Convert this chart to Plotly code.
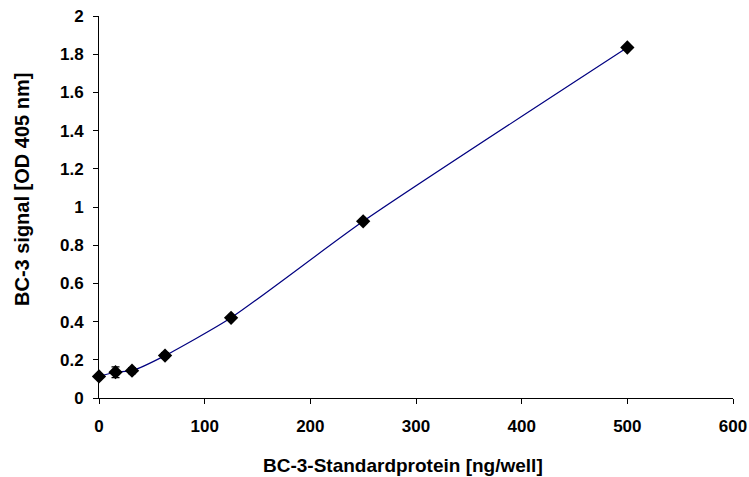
import plotly.graph_objects as go

x_vals = [0, 15.625, 31.25, 62.5, 125, 250, 500]
y_vals = [0.113, 0.135, 0.143, 0.222, 0.42, 0.925, 1.835]
y_err = [0.01, 0.028, 0.015, 0.015, 0.01, 0.01, 0.01]
x_ticks = [0, 100, 200, 300, 400, 500, 600]
y_ticks = [0, 0.2, 0.4, 0.6, 0.8, 1, 1.2, 1.4, 1.6, 1.8, 2]

W, H = 749, 477
L, R, T, B = 99, 16, 16, 79

fig = go.Figure()
fig.add_trace(go.Scatter(
    x=x_vals, y=y_vals, mode="lines+markers",
    line=dict(color="#000080", width=1.2, shape="spline", smoothing=0.6),
    marker=dict(symbol="diamond", size=11, color="black"),
    error_y=dict(type="data", array=y_err, visible=True, color="black", thickness=1.3, width=4),
    showlegend=False, cliponaxis=False,
))

fam = "Arial, Liberation Sans, sans-serif"
fig.update_layout(
    width=W, height=H,
    margin=dict(l=L, r=R, t=T, b=B, autoexpand=False),
    paper_bgcolor="white", plot_bgcolor="white",
    font=dict(family=fam, size=17, color="black"),
    xaxis=dict(
        range=[0, 600], tickvals=x_ticks, ticktext=[f"<b>{v}</b>" for v in x_ticks],
        showgrid=False, zeroline=False, showline=True, linecolor="black", linewidth=1,
        ticks="outside", ticklen=5, tickcolor="black", automargin=False,
        ticklabelstandoff=8,
    ),
    yaxis=dict(
        range=[0, 2], tickvals=y_ticks, ticktext=[f"<b>{v:g}</b>" for v in y_ticks],
        showgrid=False, zeroline=False, showline=True, linecolor="black", linewidth=1,
        ticks="outside", ticklen=5, tickcolor="black", automargin=False,
        ticklabelstandoff=6,
    ),
    annotations=[
        dict(text="<b>BC-3-Standardprotein [ng/well]</b>", xref="paper", yref="paper",
             x=(403 - L) / (W - L - R), y=-(465 - (H - B)) / (H - T - B),
             xanchor="center", yanchor="middle", showarrow=False, font=dict(size=19)),
        dict(text="<b>BC-3 signal [OD 405 nm]</b>", xref="paper", yref="paper",
             x=-(L - 22) / (W - L - R), y=((H - B) - 190) / (H - T - B), textangle=-90,
             xanchor="center", yanchor="middle", showarrow=False, font=dict(size=20)),
    ],
)
fig.write_html("out.html")
